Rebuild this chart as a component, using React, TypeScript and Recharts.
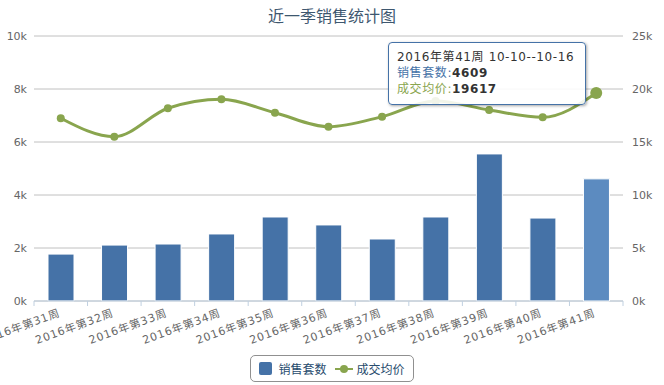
import React from 'react';
import {
  ComposedChart, Bar, Line, XAxis, YAxis, CartesianGrid, Tooltip, Legend,
} from 'recharts';

const categories = [
  '2016年第31周', '2016年第32周', '2016年第33周', '2016年第34周', '2016年第35周', '2016年第36周',
  '2016年第37周', '2016年第38周', '2016年第39周', '2016年第40周', '2016年第41周',
];
const weekRanges = [
  '08-01--08-07', '08-08--08-14', '08-15--08-21', '08-22--08-28', '08-29--09-04', '09-05--09-11',
  '09-12--09-18', '09-19--09-25', '09-26--10-02', '10-03--10-09', '10-10--10-16',
];
const salesCount = [1770, 2110, 2150, 2530, 3170, 2870, 2340, 3170, 5550, 3130, 4609];
const avgPrice = [17240, 15500, 18180, 19030, 17760, 16440, 17390, 18870, 18020, 17330, 19617];
const leftTicks = [0, 2000, 4000, 6000, 8000, 10000];
const rightTicks = [0, 5000, 10000, 15000, 20000, 25000];
const activeIndex = 10;

const data = categories.map((c, i) => ({
  name: c,
  range: weekRanges[i],
  sales: salesCount[i],
  price: avgPrice[i],
}));

const FONT = "'DejaVu Sans', 'Noto Sans CJK SC', sans-serif";
const BAR_COLOR = '#4572A7';
const BAR_HOVER = '#5C8BC0';
const LINE_COLOR = '#89A54E';

const kFormat = (v: number) => `${v / 1000}k`;

const XTick = (props: any) => {
  const { x, y, payload, index } = props;
  const off = payload.offset || 0;
  const isLast = index === categories.length - 1;
  const ax = x;
  const ay = y + 15;
  return (
    <g>
      <line x1={x - off} x2={x - off} y1={y} y2={y + 5} stroke="#C0D0E0" strokeWidth={1} />
      {isLast && (
        <line x1={x + off} x2={x + off} y1={y} y2={y + 5} stroke="#C0D0E0" strokeWidth={1} />
      )}
      <text
        x={ax}
        y={ay}
        transform={`rotate(-20, ${ax}, ${ay})`}
        textAnchor="end"
        fill="#666"
        fontSize={11}
        letterSpacing={0.8}
        fontFamily={FONT}
      >
        {payload.value}
      </text>
    </g>
  );
};

const TooltipBox = (props: any) => {
  const { active, payload } = props;
  if (!active || !payload || !payload.length) return null;
  const row = payload[0].payload;
  return (
    <div
      style={{
        background: 'rgba(255,255,255,0.88)',
        border: `1px solid ${BAR_COLOR}`,
        borderRadius: 4,
        boxShadow: '1px 1px 3px rgba(0,0,0,0.35)',
        padding: '6px 8px 7px 8px',
        fontFamily: FONT,
        fontSize: 12,
        letterSpacing: 0.6,
        lineHeight: '16px',
        color: '#333',
        width: 180,
        whiteSpace: 'nowrap',
      }}
    >
      <div>{row.name} {row.range}</div>
      <div>
        <span style={{ color: BAR_COLOR }}>销售套数:</span>
        <b>{row.sales}</b>
      </div>
      <div>
        <span style={{ color: LINE_COLOR }}>成交均价:</span>
        <b>{row.price}</b>
      </div>
    </div>
  );
};

const LegendBox = () => (
  <div style={{ display: 'flex', justifyContent: 'center', height: 26 }}>
    <div
      style={{
        display: 'flex',
        alignItems: 'center',
        border: '1px solid #909090',
        borderRadius: 5,
        height: 25,
        padding: '0 8px',
        fontFamily: FONT,
        fontSize: 12,
        color: '#274b6d',
      }}
    >
      <span style={{ display: 'inline-block', width: 13, height: 13, background: BAR_COLOR, borderRadius: 2, marginRight: 6 }} />
      <span style={{ marginRight: 8 }}>销售套数</span>
      <svg width={18} height={12} style={{ marginRight: 4 }}>
        <line x1={0} x2={18} y1={6} y2={6} stroke={LINE_COLOR} strokeWidth={2} />
        <circle cx={9} cy={6} r={4} fill={LINE_COLOR} />
      </svg>
      <span>成交均价</span>
    </div>
  </div>
);

export default function App() {
  return (
    <div style={{ position: 'absolute', left: 0, top: 0, width: 664, height: 385, background: '#fff', fontFamily: FONT }}>
      <div
        style={{
          position: 'absolute', left: 0, top: 7, width: 664, textAlign: 'center',
          fontSize: 16, lineHeight: '20px', color: '#3E576F', fontFamily: FONT, zIndex: 2,
        }}
      >
        近一季销售统计图
      </div>
      <ComposedChart
        width={664}
        height={385}
        data={data}
        margin={{ top: 36, right: 0, bottom: 4, left: 0 }}
      >
        <CartesianGrid yAxisId="left" vertical={false} stroke="#C0C0C0" />
        <XAxis
          dataKey="name"
          interval={0}
          tickLine={false}
          tickSize={0}
          tickMargin={0}
          height={54}
          axisLine={{ stroke: '#C0D0E0' }}
          tick={<XTick />}
        />
        <YAxis
          yAxisId="left"
          domain={[0, 10000]}
          ticks={leftTicks}
          tickFormatter={kFormat}
          width={34}
          axisLine={false}
          tickLine={false}
          tickSize={0}
          tickMargin={7}
          tick={{ fill: '#666', fontSize: 11, fontFamily: FONT }}
        />
        <YAxis
          yAxisId="right"
          orientation="right"
          domain={[0, 25000]}
          ticks={rightTicks}
          tickFormatter={kFormat}
          width={41}
          axisLine={false}
          tickLine={false}
          tickSize={0}
          tickMargin={9}
          tick={{ fill: '#666', fontSize: 11, fontFamily: FONT, textAnchor: 'start' }}
        />
        <Bar
          yAxisId="left"
          dataKey="sales"
          name="销售套数"
          fill={BAR_COLOR}
          stroke="#fff"
          strokeWidth={1}
          barSize={26}
          activeBar={{ fill: BAR_HOVER }}
          isAnimationActive={false}
        />
        <Line
          yAxisId="right"
          dataKey="price"
          name="成交均价"
          type="monotone"
          stroke={LINE_COLOR}
          strokeWidth={3}
          dot={{ r: 4, fill: LINE_COLOR, stroke: 'none' }}
          activeDot={{ r: 6, fill: LINE_COLOR, stroke: 'none' }}
          isAnimationActive={false}
        />
        <Legend verticalAlign="bottom" align="center" height={26} content={<LegendBox />} />
        <Tooltip
          defaultIndex={activeIndex}
          active
          cursor={false}
          position={{ x: 388, y: 42 }}
          content={<TooltipBox />}
          isAnimationActive={false}
        />
      </ComposedChart>
    </div>
  );
}
